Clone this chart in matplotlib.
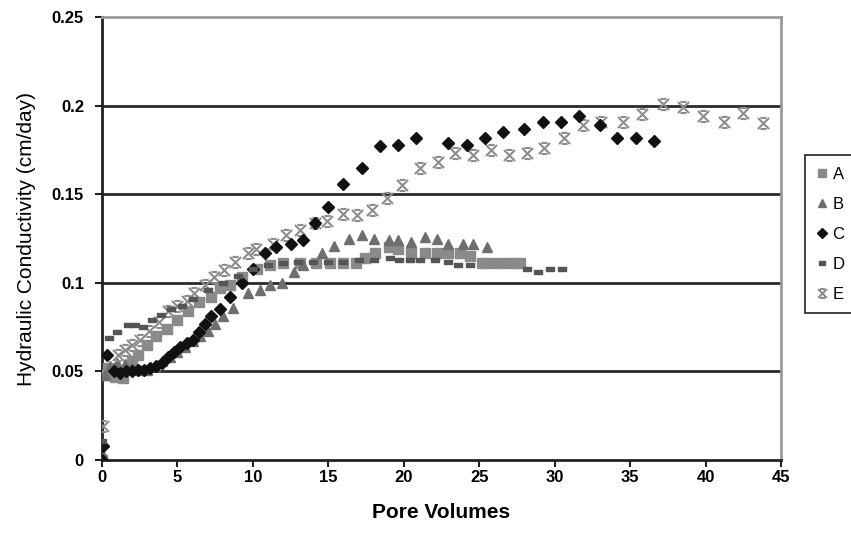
import numpy as np
import matplotlib
matplotlib.use("Agg")
import matplotlib.pyplot as plt
from matplotlib.path import Path

plt.rcParams['font.family'] = ['Liberation Sans', 'DejaVu Sans']

# Column A
a_x = [0.0, 0.1, 0.4, 0.86, 1.4, 2.0, 2.4, 3.0, 3.6, 4.3, 5.0, 5.7, 6.4, 7.2, 7.8, 8.5, 9.3, 10.3,
       11.1, 12.0, 13.1, 14.2, 15.1, 16.0, 16.8, 17.4, 18.1, 19.0, 19.6, 20.5, 21.4, 22.2, 22.9,
       23.7, 24.4, 25.2, 25.8, 26.5, 27.2, 27.7]
a_y = [0.0, 0.048, 0.052, 0.047, 0.046, 0.056, 0.059, 0.065, 0.070, 0.074, 0.079, 0.084, 0.089,
       0.092, 0.097, 0.099, 0.103, 0.108, 0.110, 0.111, 0.111, 0.111, 0.111, 0.111, 0.111, 0.114,
       0.117, 0.120, 0.119, 0.117, 0.117, 0.117, 0.117, 0.117, 0.115, 0.111, 0.111, 0.111, 0.111,
       0.111]

# Column B
b_x = [0.0, 0.2, 0.5, 1.0, 1.5, 2.0, 2.5, 3.0, 3.5, 4.0, 4.5, 5.0, 5.5, 6.0, 6.5, 7.0, 7.5, 8.0,
       8.7, 9.7, 10.5, 11.1, 11.9, 12.7, 13.3, 14.6, 15.4, 16.4, 17.2, 18.0, 19.0, 19.6, 20.5,
       21.4, 22.2, 22.9, 23.9, 24.6, 25.5]
b_y = [0.004, 0.048, 0.053, 0.055, 0.054, 0.052, 0.051, 0.051, 0.053, 0.056, 0.058, 0.061, 0.064,
       0.067, 0.070, 0.073, 0.077, 0.081, 0.086, 0.094, 0.096, 0.099, 0.100, 0.106, 0.110, 0.117,
       0.121, 0.125, 0.127, 0.125, 0.124, 0.124, 0.123, 0.126, 0.125, 0.122, 0.122, 0.122, 0.120]

# Column C
c_x = [0.0, 0.05, 0.3, 0.8, 1.2, 1.6, 2.0, 2.4, 2.8, 3.2, 3.6, 4.0, 4.4, 4.8, 5.2, 5.6, 6.0, 6.4,
       6.8, 7.2, 7.8, 8.5, 9.3, 10.0, 10.8, 11.5, 12.5, 13.3, 14.1, 15.0, 16.0, 17.2, 18.4, 19.6,
       20.8, 22.9, 24.2, 25.4, 26.6, 28.0, 29.2, 30.4, 31.6, 33.0, 34.1, 35.4, 36.6]
c_y = [0.0, 0.008, 0.059, 0.050, 0.049, 0.050, 0.050, 0.051, 0.051, 0.052, 0.053, 0.055, 0.058,
       0.061, 0.064, 0.066, 0.068, 0.072, 0.077, 0.081, 0.085, 0.092, 0.100, 0.108, 0.117, 0.120,
       0.122, 0.124, 0.134, 0.143, 0.156, 0.165, 0.177, 0.178, 0.182, 0.179, 0.178, 0.182, 0.185,
       0.187, 0.191, 0.191, 0.194, 0.189, 0.182, 0.182, 0.180]

# Column D
d_x = [0.0, 0.46, 1.0, 1.7, 2.2, 2.7, 3.3, 3.9, 4.6, 5.3, 6.0, 7.0, 8.0, 9.0, 10.0, 11.0, 12.0,
       13.0, 14.0, 15.0, 16.0, 17.0, 18.0, 19.1, 19.7, 20.4, 21.1, 22.1, 22.9, 23.6, 24.4, 28.2,
       28.9, 29.7, 30.5]
d_y = [0.011, 0.069, 0.072, 0.076, 0.076, 0.075, 0.079, 0.082, 0.085, 0.087, 0.091, 0.096, 0.100,
       0.104, 0.108, 0.110, 0.111, 0.112, 0.112, 0.112, 0.112, 0.113, 0.113, 0.114, 0.113, 0.113,
       0.113, 0.113, 0.112, 0.110, 0.110, 0.108, 0.106, 0.108, 0.108]

# Column E
e_x = [0.07, 1.06, 1.5, 2.0, 2.5, 3.1, 3.8, 4.4, 5.0, 5.6, 6.1, 6.8, 7.4, 8.1, 8.8, 9.7, 10.2,
       11.3, 12.2, 13.1, 14.1, 14.9, 16.0, 16.9, 17.9, 18.9, 19.9, 21.1, 22.3, 23.4, 24.6, 25.8,
       27.0, 28.2, 29.3, 30.6, 31.9, 33.1, 34.5, 35.8, 37.2, 38.5, 39.8, 41.2, 42.5, 43.8]
e_y = [0.019, 0.059, 0.062, 0.065, 0.068, 0.073, 0.078, 0.084, 0.087, 0.090, 0.094, 0.099, 0.103,
       0.107, 0.112, 0.117, 0.119, 0.122, 0.127, 0.130, 0.134, 0.135, 0.139, 0.138, 0.141, 0.148,
       0.155, 0.165, 0.168, 0.173, 0.172, 0.175, 0.172, 0.173, 0.176, 0.182, 0.189, 0.191, 0.191,
       0.195, 0.201, 0.199, 0.194, 0.191, 0.196, 0.190]

x_ticks = [0, 5, 10, 15, 20, 25, 30, 35, 40, 45]
y_ticks = [0, 0.05, 0.1, 0.15, 0.2, 0.25]
y_labels = ['0', '0.05', '0.1', '0.15', '0.2', '0.25']

# small flat dash for D, x with short caps for E
dash = [(-1.0, -0.45), (1.0, -0.45), (1.0, 0.45), (-1.0, 0.45), (-1.0, -0.45)]
star = Path([(-1, -1), (1, 1), (-1, 1), (1, -1), (-0.55, 1), (0.55, 1), (-0.55, -1), (0.55, -1)],
            [Path.MOVETO, Path.LINETO] * 4)

fig = plt.figure(figsize=(8.51, 5.35), dpi=100)
ax = fig.add_axes([0.1199, 0.1402, 0.7978, 0.828])

for yv in y_ticks[1:-1]:
    ax.axhline(yv, color='#2a2a2a', lw=2.0, zorder=1)

ax.plot(a_x, a_y, ls='none', marker='s', ms=7, color='#8a8a8a', mec='#8a8a8a', label='A', zorder=3)
ax.plot(b_x, b_y, ls='none', marker='^', ms=7.5, color='#6e6e6e', mec='#6e6e6e', label='B', zorder=3)
ax.plot(c_x, c_y, ls='none', marker='D', ms=6.5, color='#111111', mec='#111111', label='C', zorder=4)
ax.plot(d_x, d_y, ls='none', marker=dash, ms=6, color='#555555', mec='#555555', label='D', zorder=4)
ax.plot(e_x, e_y, ls='none', marker=star, ms=8, color='#8c8c8c', mfc='none', mew=1.5,
        label='E', zorder=3)

ax.set_xlim(0, 45)
ax.set_ylim(0, 0.25)
ax.set_xticks(x_ticks)
ax.set_yticks(y_ticks)
ax.set_yticklabels(y_labels)
ax.tick_params(axis='both', direction='out', length=5, width=1.5, color='#222222', labelsize=12)
ax.tick_params(axis='y', pad=8)
ax.tick_params(axis='x', pad=2)
for lab in ax.get_xticklabels() + ax.get_yticklabels():
    lab.set_fontweight('bold')

for side in ['left', 'bottom']:
    ax.spines[side].set_color('#222222')
    ax.spines[side].set_linewidth(2.0)
for side in ['top', 'right']:
    ax.spines[side].set_color('#9a9a9a')
    ax.spines[side].set_linewidth(2.0)

ax.set_xlabel('Pore Volumes', fontsize=15, fontweight='bold', labelpad=13)
ax.set_ylabel('Hydraulic Conductivity (cm/day)', fontsize=15, labelpad=11)

leg = fig.legend(loc='upper left', bbox_to_anchor=(0.946, 0.71), fontsize=12,
                 frameon=True, fancybox=False, edgecolor='black', handlelength=0.6,
                 handletextpad=0.35, borderpad=0.7, labelspacing=0.9, markerscale=0.8,
                 borderaxespad=0)
leg.get_frame().set_linewidth(1.3)

fig.savefig('out.png', dpi=100)
